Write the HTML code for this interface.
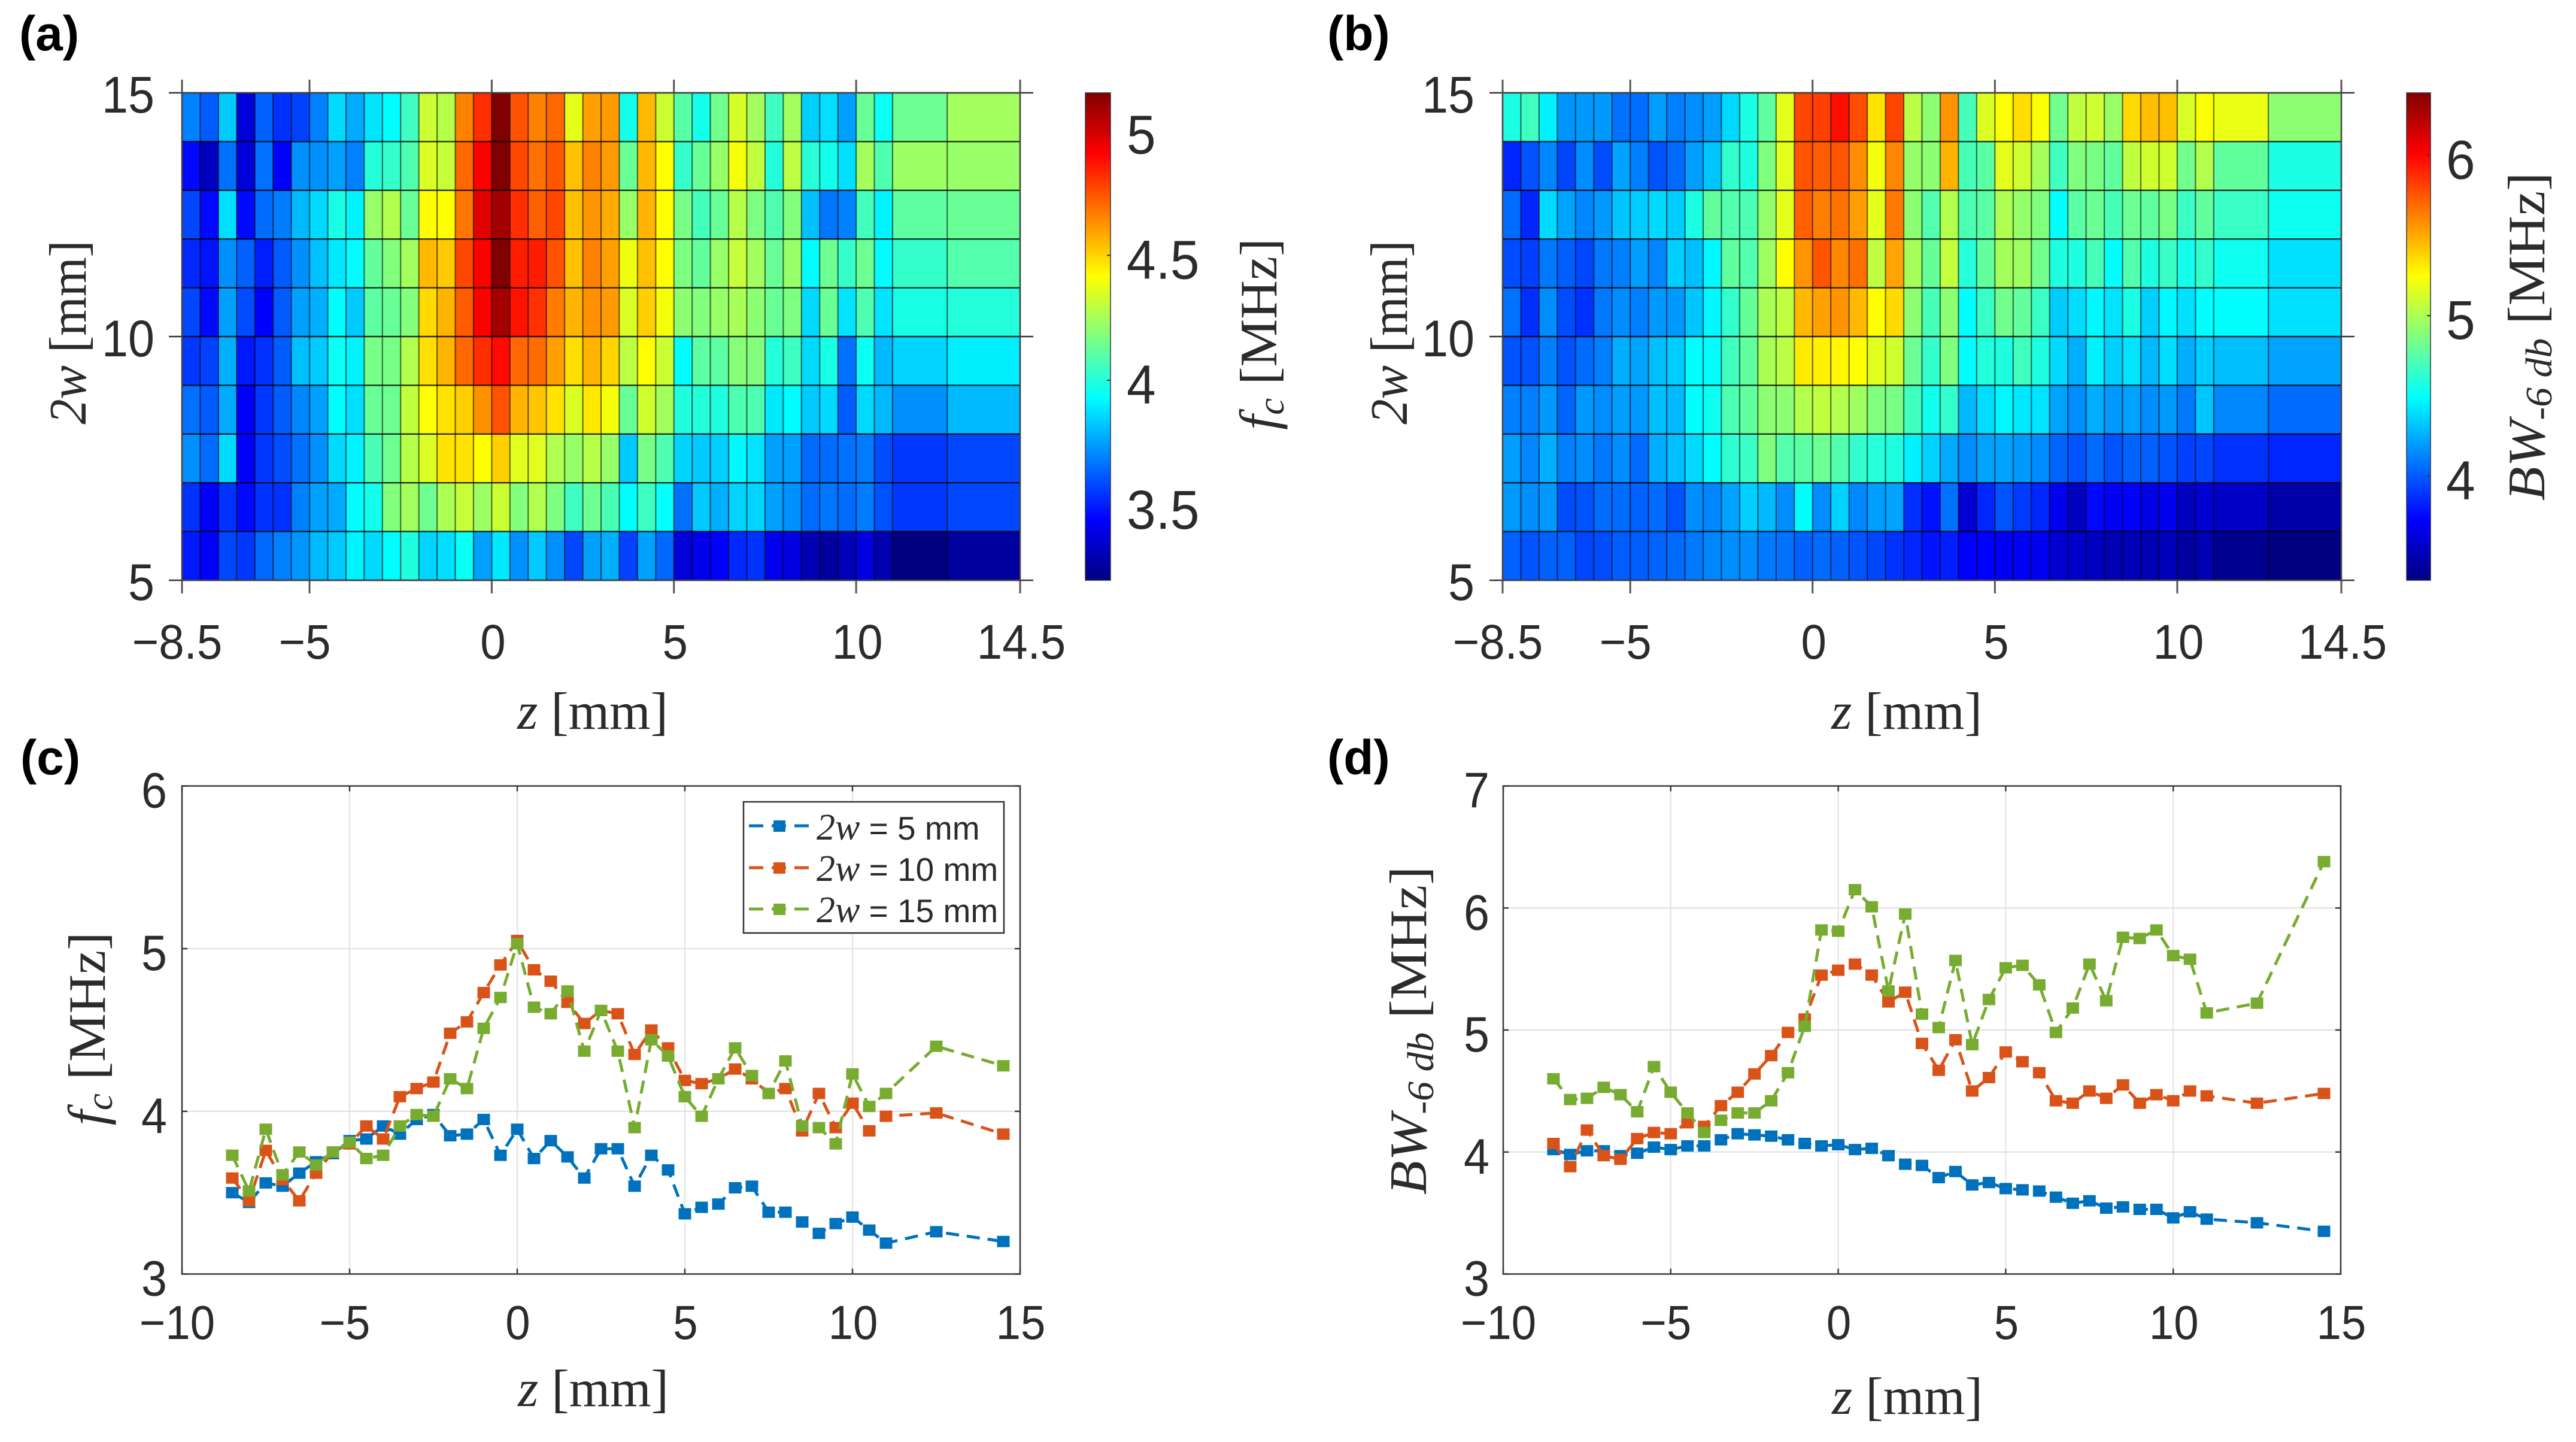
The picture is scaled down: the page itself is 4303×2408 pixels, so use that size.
<!DOCTYPE html>
<html lang="en">
<head>
<meta charset="utf-8">
<title>Center frequency and bandwidth maps</title>
<style>
html,body{margin:0;padding:0;background:#fff;}
svg{display:block;}
text{fill:#2b2b2b;}
.serif{font-family:"Liberation Serif","DejaVu Serif",serif;font-size:88px;}
.bold{font-family:"Liberation Sans",Arial,sans-serif;font-weight:bold;font-size:82px;fill:#000;}
.sans{font-family:"Liberation Sans",Arial,sans-serif;}
</style>
</head>
<body>
<svg id="figure" xmlns="http://www.w3.org/2000/svg" width="4303" height="2408" viewBox="0 0 4303 2408">
  <defs>
    <linearGradient id="jetGrad" x1="0" y1="1" x2="0" y2="0">
      <stop offset="0" stop-color="#000080"/>
      <stop offset="0.125" stop-color="#0000ff"/>
      <stop offset="0.375" stop-color="#00ffff"/>
      <stop offset="0.625" stop-color="#ffff00"/>
      <stop offset="0.875" stop-color="#ff0000"/>
      <stop offset="1" stop-color="#800000"/>
    </linearGradient>
  </defs>
  <rect width="4303" height="2408" fill="#fff"/>

  <g id="panelA"></g>
  <g id="panelB"></g>
  <g id="panelC"></g>
  <g id="panelD"></g>

  <text class="bold" x="32" y="84">(a)</text>
  <text class="bold" x="2217" y="84">(b)</text>
  <text class="bold" x="34" y="1293">(c)</text>
  <text class="bold" x="2217" y="1293">(d)</text>

  <text class="serif" text-anchor="middle" transform="translate(990,1217)"><tspan font-style="italic">z</tspan> [mm]</text>
  <text class="serif" text-anchor="middle" transform="translate(3185,1217)"><tspan font-style="italic">z</tspan> [mm]</text>
  <text class="serif" text-anchor="middle" transform="translate(991,2348)"><tspan font-style="italic">z</tspan> [mm]</text>
  <text class="serif" text-anchor="middle" transform="translate(3186,2361)"><tspan font-style="italic">z</tspan> [mm]</text>

  <text class="serif" text-anchor="middle" transform="translate(143,555) rotate(-90) scale(0.96,1)"><tspan font-style="italic">2w</tspan> [mm]</text>
  <text class="serif" text-anchor="middle" transform="translate(2350,555) rotate(-90) scale(0.96,1)"><tspan font-style="italic">2w</tspan> [mm]</text>

  <text class="serif" text-anchor="middle" transform="translate(2132,558) rotate(-90) scale(1.02,1)"><tspan font-style="italic">f</tspan><tspan font-style="italic" font-size="62" dy="12">c</tspan><tspan dy="-12"> [MHz]</tspan></text>
  <text class="serif" text-anchor="middle" transform="translate(4250,562) rotate(-90) scale(1.06,1)"><tspan font-style="italic">BW</tspan><tspan font-style="italic" font-size="62" dy="12">-6 db</tspan><tspan dy="-12"> [MHz]</tspan></text>

  <text class="serif" text-anchor="middle" transform="translate(175,1718) rotate(-90) scale(1.03,1)"><tspan font-style="italic">f</tspan><tspan font-style="italic" font-size="62" dy="12">c</tspan><tspan dy="-12"> [MHz]</tspan></text>
  <text class="serif" text-anchor="middle" transform="translate(2382,1721) rotate(-90) scale(1.06,1)"><tspan font-style="italic">BW</tspan><tspan font-style="italic" font-size="62" dy="12">-6 db</tspan><tspan dy="-12"> [MHz]</tspan></text>

  <g id="legend">
    <rect x="1242" y="1339" width="435" height="219" fill="#fff" stroke="#333" stroke-width="2.5"/>
    <g>
      <line x1="1251" y1="1379" x2="1352" y2="1379" stroke="#0072BD" stroke-width="5" stroke-dasharray="24 14"/>
      <rect x="1292" y="1370" width="20" height="19" fill="#0072BD"/>
      <text x="1364" y="1402" font-size="55" class="sans"><tspan font-family="Liberation Serif" font-style="italic" font-size="62">2w</tspan> = 5 mm</text>
    </g>
    <g>
      <line x1="1251" y1="1449" x2="1352" y2="1449" stroke="#D95319" stroke-width="5" stroke-dasharray="24 14"/>
      <rect x="1292" y="1440" width="20" height="19" fill="#D95319"/>
      <text x="1364" y="1471" font-size="55" class="sans"><tspan font-family="Liberation Serif" font-style="italic" font-size="62">2w</tspan> = 10 mm</text>
    </g>
    <g>
      <line x1="1251" y1="1518" x2="1352" y2="1518" stroke="#77AC30" stroke-width="5" stroke-dasharray="24 14"/>
      <rect x="1292" y="1509" width="20" height="19" fill="#77AC30"/>
      <text x="1364" y="1540" font-size="55" class="sans"><tspan font-family="Liberation Serif" font-style="italic" font-size="62">2w</tspan> = 15 mm</text>
    </g>
  </g>
</svg>

<script>
// ---------- Heatmap data (MHz) ----------
const zEdges = [-8.5,-8,-7.5,-7,-6.5,-6,-5.5,-5,-4.5,-4,-3.5,-3,-2.5,-2,-1.5,-1,-0.5,0,0.5,1,1.5,2,2.5,3,3.5,4,4.5,5,5.5,6,6.5,7,7.5,8,8.5,9,9.5,10,10.5,11,12.5,14.5];
const wEdges = [15,14,13,12,11,10,9,8,7,6,5];

const fcCells = [
[3.69,3.62,3.83,3.37,3.63,3.54,3.57,3.69,3.86,3.77,3.88,3.93,4.05,4.32,4.28,4.66,4.82,5.15,4.75,4.66,4.71,4.37,4.6,4.61,3.97,4.55,4.32,4.1,3.97,4.15,4.34,4.24,4.05,4.24,3.84,3.87,3.75,4.13,3.95,4.14,4.24],
[3.46,3.32,3.66,3.37,3.66,3.44,3.72,3.72,3.75,3.69,4.0,4.03,4.08,4.35,4.31,4.71,4.91,5.15,4.77,4.69,4.74,4.54,4.66,4.61,4.13,4.55,4.42,4.03,4.13,4.22,4.4,4.3,4.0,4.29,4.01,3.97,3.87,4.24,4.08,4.23,4.22],
[3.58,3.46,3.87,3.46,3.65,3.68,3.8,3.86,3.98,3.91,4.22,4.27,4.13,4.42,4.42,4.68,4.96,5.08,4.82,4.72,4.77,4.54,4.62,4.58,4.22,4.56,4.42,4.16,4.06,4.13,4.28,4.17,4.08,4.18,3.81,3.67,3.69,4.06,3.91,4.11,4.13],
[3.52,3.48,3.72,3.63,3.5,3.62,3.72,3.81,3.89,3.93,4.12,4.18,4.24,4.55,4.52,4.77,4.91,5.15,4.85,4.85,4.75,4.54,4.66,4.6,4.39,4.54,4.42,4.17,4.12,4.22,4.31,4.24,4.13,4.22,3.93,4.14,4.03,4.14,3.93,4.03,4.09],
[3.58,3.46,3.75,3.59,3.44,3.62,3.75,3.78,3.93,3.83,4.11,4.13,4.18,4.49,4.56,4.73,4.91,5.08,4.87,4.81,4.67,4.56,4.63,4.61,4.35,4.51,4.4,4.2,4.18,4.22,4.25,4.2,4.13,4.17,3.86,4.13,3.88,4.08,3.88,3.98,4.0],
[3.55,3.57,3.78,3.49,3.54,3.62,3.81,3.83,3.95,3.91,4.16,4.16,4.27,4.48,4.56,4.71,4.82,4.89,4.71,4.7,4.6,4.48,4.56,4.5,4.29,4.42,4.32,3.93,4.11,4.11,4.19,4.18,4.0,4.05,3.86,3.98,3.66,3.95,3.8,3.85,3.9],
[3.66,3.62,3.77,3.44,3.55,3.62,3.7,3.75,3.93,3.87,4.13,4.14,4.3,4.42,4.47,4.51,4.63,4.75,4.56,4.53,4.47,4.35,4.46,4.4,4.13,4.33,4.24,3.99,4.0,3.99,4.08,4.08,3.89,3.93,3.83,3.86,3.62,3.86,3.8,3.72,3.8],
[3.72,3.65,3.86,3.44,3.55,3.59,3.66,3.72,3.86,3.91,4.07,4.14,4.28,4.35,4.47,4.47,4.42,4.51,4.36,4.36,4.27,4.22,4.28,4.22,3.83,4.16,4.08,3.85,3.83,3.84,3.92,3.88,3.75,3.75,3.65,3.65,3.66,3.68,3.59,3.55,3.58],
[3.54,3.44,3.54,3.46,3.54,3.54,3.69,3.75,3.77,3.93,3.97,4.18,4.24,4.14,4.26,4.31,4.23,4.32,4.18,4.27,4.17,4.05,4.14,4.07,3.93,4.05,3.94,3.66,3.83,3.78,3.85,3.85,3.75,3.72,3.65,3.67,3.65,3.68,3.6,3.55,3.58],
[3.49,3.44,3.58,3.55,3.64,3.69,3.73,3.8,3.83,3.91,3.86,3.93,3.99,3.85,3.87,3.95,3.75,3.89,3.72,3.83,3.72,3.58,3.75,3.78,3.57,3.75,3.64,3.37,3.41,3.44,3.52,3.54,3.41,3.39,3.3,3.26,3.31,3.38,3.29,3.2,3.26]
];

const bwCells = [
[4.57,4.68,4.45,4.17,4.19,4.19,4.07,4.06,4.2,4.11,4.15,4.2,4.38,4.57,4.78,5.17,5.8,5.82,5.97,5.78,5.33,5.8,5.04,4.91,5.57,4.7,5.14,5.24,5.35,5.23,4.83,5.06,5.1,4.95,5.36,5.44,5.44,5.14,5.24,5.19,4.91],
[3.84,3.98,4.13,3.94,4.15,3.96,4.22,4.11,3.98,4.05,4.2,4.32,4.64,4.58,4.87,5.16,5.76,5.73,5.76,5.59,5.21,5.61,4.93,4.91,5.48,4.7,4.76,5.17,5.11,4.98,4.68,4.87,4.85,4.78,5.06,5.11,5.11,4.83,5.02,4.78,4.57],
[4.05,3.84,4.38,4.22,4.13,4.19,4.32,4.34,4.38,4.34,4.57,4.78,4.73,4.72,4.93,5.17,5.72,5.63,5.67,5.54,5.17,5.65,4.91,4.73,5.02,4.72,4.76,5.01,4.93,4.87,4.49,4.76,4.81,4.7,4.81,4.78,4.85,4.66,4.78,4.66,4.53],
[3.96,3.92,4.09,4.01,3.94,4.09,4.11,4.2,4.13,4.35,4.3,4.47,4.78,4.73,4.96,5.25,5.57,5.76,5.61,5.68,5.06,5.52,4.98,4.79,5.07,4.6,4.78,4.98,4.96,4.83,4.58,4.58,4.7,4.49,4.73,4.58,4.66,4.55,4.64,4.53,4.4],
[4.07,3.87,4.15,3.96,3.88,4.09,4.15,4.11,4.19,4.19,4.32,4.47,4.64,4.79,5.0,5.06,5.46,5.53,5.57,5.46,5.25,5.36,4.91,4.7,4.91,4.49,4.66,4.83,4.78,4.66,4.34,4.39,4.47,4.41,4.57,4.35,4.47,4.4,4.49,4.49,4.4],
[3.98,3.97,4.11,3.98,4.05,4.11,4.25,4.22,4.3,4.34,4.49,4.5,4.68,4.78,5.0,5.04,5.31,5.29,5.27,5.25,5.16,5.11,4.81,4.64,4.87,4.49,4.59,4.58,4.68,4.58,4.38,4.25,4.45,4.35,4.41,4.28,4.39,4.25,4.34,4.3,4.22],
[4.11,4.11,4.19,4.03,4.19,4.15,4.2,4.19,4.3,4.28,4.49,4.53,4.72,4.78,4.91,4.91,5.02,5.06,5.02,4.96,4.87,4.85,4.68,4.54,4.64,4.28,4.39,4.47,4.42,4.41,4.22,4.15,4.25,4.19,4.22,4.15,4.19,4.09,4.32,4.13,4.05],
[4.2,4.13,4.25,4.11,4.15,4.09,4.15,4.05,4.25,4.3,4.38,4.49,4.63,4.66,4.87,4.74,4.76,4.81,4.73,4.64,4.6,4.58,4.45,4.36,4.24,4.15,4.22,4.22,4.19,4.15,4.03,3.98,4.05,3.98,4.03,4.02,3.98,3.92,3.94,3.88,3.84],
[4.19,4.15,4.19,3.96,3.98,4.05,4.05,4.02,4.05,3.97,4.15,4.13,4.22,4.35,4.28,4.15,4.49,4.15,4.36,4.13,4.2,4.22,3.87,3.78,4.07,3.6,3.84,3.98,3.9,3.84,3.68,3.54,3.75,3.7,3.73,3.65,3.68,3.54,3.6,3.56,3.47],
[4.02,3.98,4.02,4.02,3.94,3.96,4.01,4.01,4.03,4.05,4.09,4.13,4.15,4.15,4.09,4.07,4.02,4.05,4.02,3.98,3.94,3.88,3.84,3.79,3.82,3.73,3.73,3.7,3.7,3.7,3.6,3.58,3.55,3.5,3.52,3.5,3.52,3.45,3.5,3.4,3.35]
];

const fcRange = [3.2, 5.15];
const bwRange = [3.35, 6.39];
const fcBarTicks = [5, 4.5, 4, 3.5];
const fcBarLabels = ["5", "4.5", "4", "3.5"];
const bwBarTicks = [6, 5, 4];
const bwBarLabels = ["6", "5", "4"];
const heatZTicks = [-8.5, -5, 0, 5, 10, 14.5];
const heatZLabels = ["\u22128.5", "\u22125", "0", "5", "10", "14.5"];
const heatWTicks = [15, 10, 5];
const heatWLabels = ["15", "10", "5"];

// ---------- Line chart data (MHz) ----------
const zSamples = [-8.5,-8,-7.5,-7,-6.5,-6,-5.5,-5,-4.5,-4,-3.5,-3,-2.5,-2,-1.5,-1,-0.5,0,0.5,1,1.5,2,2.5,3,3.5,4,4.5,5,5.5,6,6.5,7,7.5,8,8.5,9,9.5,10,10.5,11,12.5,14.5];
const fc5mm = [3.50,3.44,3.56,3.54,3.62,3.69,3.74,3.82,3.83,3.91,3.86,3.95,3.98,3.85,3.86,3.95,3.73,3.89,3.71,3.82,3.72,3.59,3.77,3.77,3.54,3.73,3.64,3.37,3.41,3.43,3.53,3.54,3.38,3.38,3.32,3.25,3.31,3.35,3.27,3.19,3.26,3.20];
const fc10mm = [3.59,3.45,3.76,3.58,3.45,3.62,3.75,3.80,3.91,3.83,4.09,4.14,4.18,4.48,4.55,4.73,4.90,5.05,4.87,4.80,4.67,4.54,4.62,4.60,4.35,4.50,4.39,4.19,4.17,4.20,4.26,4.20,4.11,4.14,3.88,4.11,3.90,4.05,3.88,3.97,3.99,3.86];
const fc15mm = [3.73,3.51,3.89,3.61,3.75,3.67,3.75,3.81,3.71,3.73,3.91,3.98,3.97,4.20,4.14,4.51,4.70,5.03,4.64,4.60,4.74,4.37,4.62,4.37,3.90,4.44,4.34,4.09,3.97,4.20,4.39,4.22,4.11,4.31,3.91,3.90,3.80,4.23,4.03,4.11,4.40,4.28];
const bw5mm = [4.02,3.98,4.01,4.01,3.97,3.99,4.04,4.02,4.05,4.05,4.10,4.15,4.14,4.13,4.10,4.07,4.05,4.06,4.02,4.03,3.97,3.90,3.89,3.79,3.84,3.73,3.75,3.70,3.69,3.68,3.63,3.58,3.60,3.54,3.55,3.53,3.53,3.46,3.51,3.45,3.42,3.35];
const bw10mm = [4.07,3.88,4.18,3.97,3.94,4.11,4.16,4.15,4.24,4.21,4.38,4.49,4.64,4.79,4.98,5.09,5.45,5.49,5.54,5.45,5.23,5.31,4.89,4.67,4.92,4.50,4.61,4.82,4.74,4.65,4.42,4.40,4.50,4.44,4.55,4.40,4.47,4.42,4.50,4.46,4.40,4.48];
const bw15mm = [4.60,4.43,4.44,4.53,4.47,4.33,4.70,4.49,4.32,4.16,4.26,4.32,4.32,4.42,4.65,5.03,5.82,5.81,6.15,6.01,5.32,5.95,5.13,5.02,5.57,4.88,5.25,5.51,5.53,5.37,4.98,5.18,5.54,5.24,5.76,5.75,5.82,5.61,5.58,5.14,5.22,6.38];
const lineZTicks = [-10, -5, 0, 5, 10, 15];
const lineZLabels = ["\u221210", "\u22125", "0", "5", "10", "15"];
const fcTicks = [6, 5, 4, 3];
const fcTickLabels = ["6", "5", "4", "3"];
const bwTicks = [7, 6, 5, 4, 3];
const bwTickLabels = ["7", "6", "5", "4", "3"];

// ---------- helpers ----------
const NS = "http://www.w3.org/2000/svg";
function mk(tag, parent, props) {
  const el = document.createElementNS(NS, tag);
  for (const k in props) el.setAttribute(k, props[k]);
  parent.appendChild(el);
  return el;
}
function label(parent, x, y, str, anchor, size, hs) {
  const el = mk("text", parent, {
    transform: "translate(" + x + "," + y + ") scale(" + hs + ",1)",
    "text-anchor": anchor,
    "font-size": size,
    class: "sans"
  });
  el.textContent = str;
  return el;
}
function clamp01(v) { return Math.max(0, Math.min(1, v)); }
function jet(t) {
  const r = clamp01(Math.min(4 * t - 1.5, -4 * t + 4.5));
  const g = clamp01(Math.min(4 * t - 0.5, -4 * t + 3.5));
  const b = clamp01(Math.min(4 * t + 0.5, -4 * t + 2.5));
  return "rgb(" + Math.round(r * 255) + "," + Math.round(g * 255) + "," + Math.round(b * 255) + ")";
}

// ---------- heatmap panels ----------
function drawHeat(root, cfg, cells, range, barTicks, barLabels) {
  const xOf = z => cfg.left + (z - (-8.5)) * (cfg.right - cfg.left) / 23;
  const yOf = w => cfg.top + (15 - w) * (cfg.bottom - cfg.top) / 10;
  const barY = v => cfg.bottom - (v - range[0]) / (range[1] - range[0]) * (cfg.bottom - cfg.top);

  cells.forEach((row, r) => {
    row.forEach((val, c) => {
      const x0 = xOf(zEdges[c]), x1 = xOf(zEdges[c + 1]);
      const y0 = yOf(wEdges[r]), y1 = yOf(wEdges[r + 1]);
      const t = (val - range[0]) / (range[1] - range[0]);
      const cell = mk("rect", root, {x: x0, y: y0, width: x1 - x0 + 0.6, height: y1 - y0 + 0.6, fill: jet(t)});
      
      
    });
  });
  zEdges.forEach(z => {
    const ln = mk("line", root, {x1: xOf(z), x2: xOf(z), y1: cfg.top, y2: cfg.bottom, stroke: "#000", "stroke-opacity": 0.55, "stroke-width": 2.2});
    
    
  });
  wEdges.forEach(w => {
    const ln = mk("line", root, {x1: cfg.left, x2: cfg.right, y1: yOf(w), y2: yOf(w), stroke: "#000", "stroke-opacity": 0.8, "stroke-width": 2.4});
    
    
  });
  heatZTicks.forEach((z, i) => {
    const x = xOf(z);
    const top = mk("line", root, {x1: x, x2: x, y1: cfg.top - 22, y2: cfg.top, stroke: "#555", "stroke-width": 3});
    
    
    const bot = mk("line", root, {x1: x, x2: x, y1: cfg.bottom, y2: cfg.bottom + 22, stroke: "#555", "stroke-width": 3});
    
    
    const txt = label(root, x + (z < 0 ? -8 : 2), 1100, heatZLabels[i], "middle", 82, 0.93);
    
    
  });
  heatWTicks.forEach((w, i) => {
    const y = yOf(w);
    const lt = mk("line", root, {x1: cfg.left - 22, x2: cfg.left, y1: y, y2: y, stroke: "#333", "stroke-width": 2.5});
    
    
    const rt = mk("line", root, {x1: cfg.right, x2: cfg.right + 22, y1: y, y2: y, stroke: "#333", "stroke-width": 2.5});
    
    
    const txt = label(root, cfg.yLabelX, y + 33, heatWLabels[i], "end", 86, 0.92);
    
    
  });
  const frame = mk("rect", root, {x: cfg.left, y: cfg.top, width: cfg.right - cfg.left, height: cfg.bottom - cfg.top, fill: "none", stroke: "#444", "stroke-width": 2.5});
  
  

  const bar = mk("rect", root, {x: cfg.barLeft, y: cfg.top, width: cfg.barWidth, height: cfg.bottom - cfg.top, fill: "url(#jetGrad)", stroke: "#334", "stroke-width": 1.5});
  
  
  barTicks.forEach((v, i) => {
    const y = barY(v);
    const tk = mk("line", root, {x1: cfg.barLeft + cfg.barWidth - 6, x2: cfg.barLeft + cfg.barWidth, y1: y, y2: y, stroke: "#333", "stroke-width": 2});
    
    
    const txt = label(root, cfg.barLabelX, y + 39, barLabels[i], "start", 92, 0.95);
    
    
  });
}

drawHeat(document.getElementById("panelA"),
  {left: 304, right: 1704, top: 155, bottom: 969, yLabelX: 258, barLeft: 1813, barWidth: 42, barLabelX: 1882},
  fcCells, fcRange, fcBarTicks, fcBarLabels);
drawHeat(document.getElementById("panelB"),
  {left: 2510, right: 3911, top: 155, bottom: 969, yLabelX: 2463, barLeft: 4020, barWidth: 40, barLabelX: 4086},
  bwCells, bwRange, bwBarTicks, bwBarLabels);

// ---------- line chart panels ----------
function drawLines(root, cfg, yTicks, yLabels, series) {
  const xOf = z => cfg.left + (z + 10) * (cfg.right - cfg.left) / 25;
  const yOf = v => cfg.bottom - (v - cfg.yMin) * (cfg.bottom - cfg.top) / (cfg.yMax - cfg.yMin);

  lineZTicks.forEach(z => {
    if (z === -10 || z === 15) return;
    const g = mk("line", root, {x1: xOf(z), x2: xOf(z), y1: cfg.top, y2: cfg.bottom, stroke: "#e4e4e4", "stroke-width": 2.2});
    
    
  });
  yTicks.forEach(v => {
    if (v === cfg.yMin || v === cfg.yMax) return;
    const g = mk("line", root, {x1: cfg.left, x2: cfg.right, y1: yOf(v), y2: yOf(v), stroke: "#e0e0e0", "stroke-width": 2.2});
    
    
  });
  const frame = mk("rect", root, {x: cfg.left, y: cfg.top, width: cfg.right - cfg.left, height: cfg.bottom - cfg.top, fill: "none", stroke: "#3a3a3a", "stroke-width": 2.5});
  
  

  lineZTicks.forEach((z, i) => {
    const x = xOf(z);
    const a = mk("line", root, {x1: x, x2: x, y1: cfg.bottom - 9, y2: cfg.bottom, stroke: "#3a3a3a", "stroke-width": 2.5});
    
    
    const b = mk("line", root, {x1: x, x2: x, y1: cfg.top, y2: cfg.top + 9, stroke: "#3a3a3a", "stroke-width": 2.5});
    
    
    const txt = label(root, x + (z < 0 ? -8 : 1), 2236, lineZLabels[i], "middle", 80, 0.93);
    
    
  });
  yTicks.forEach((v, i) => {
    const y = yOf(v);
    const a = mk("line", root, {x1: cfg.left, x2: cfg.left + 9, y1: y, y2: y, stroke: "#3a3a3a", "stroke-width": 2.5});
    
    
    const b = mk("line", root, {x1: cfg.right - 9, x2: cfg.right, y1: y, y2: y, stroke: "#3a3a3a", "stroke-width": 2.5});
    
    
    const txt = label(root, cfg.yLabelX, y + 36, yLabels[i], "end", 84, 0.92);
    
    
  });

  series.forEach(s => {
    const g = mk("g", root, {});
    
    
    const pts = s.values.map((v, i) => xOf(zSamples[i]) + "," + yOf(v)).join(" ");
    const line = mk("polyline", g, {points: pts, fill: "none", stroke: s.color, "stroke-width": 5, "stroke-dasharray": "22 13"});
    
    
    s.values.forEach((v, i) => {
      const m = mk("rect", g, {x: xOf(zSamples[i]) - 10.5, y: yOf(v) - 9.5, width: 21, height: 19, fill: s.color});
      
      
    });
  });
}

drawLines(document.getElementById("panelC"),
  {left: 304, right: 1704, top: 1312.5, bottom: 2127.5, yMin: 3, yMax: 6, yLabelX: 279},
  fcTicks, fcTickLabels,
  [{name: "fc-series-5mm", values: fc5mm, color: "#0072BD"},
   {name: "fc-series-10mm", values: fc10mm, color: "#D95319"},
   {name: "fc-series-15mm", values: fc15mm, color: "#77AC30"}]);
drawLines(document.getElementById("panelD"),
  {left: 2511, right: 3910, top: 1312.5, bottom: 2127.5, yMin: 3, yMax: 7, yLabelX: 2488},
  bwTicks, bwTickLabels,
  [{name: "bw-series-5mm", values: bw5mm, color: "#0072BD"},
   {name: "bw-series-10mm", values: bw10mm, color: "#D95319"},
   {name: "bw-series-15mm", values: bw15mm, color: "#77AC30"}]);
</script>
</body>
</html>
